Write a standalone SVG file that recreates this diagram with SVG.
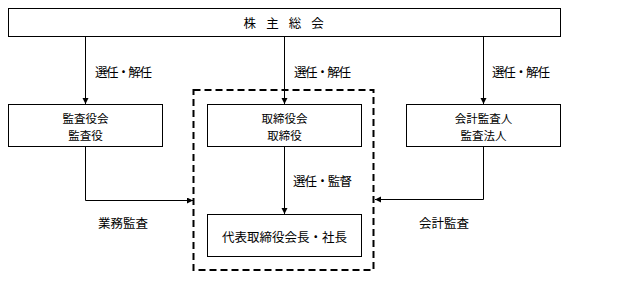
<svg xmlns="http://www.w3.org/2000/svg" width="621" height="285" viewBox="0 0 621 285">
<style>
.box{fill:#fff;stroke:#000;stroke-width:1}
.t{font-family:"Noto Sans CJK JP","Noto Sans CJK SC",sans-serif;font-size:12.5px;fill:#000}
.s{font-size:11.5px}
.c{text-anchor:middle}
.conn{fill:none;stroke:#000;stroke-width:1}
.dash{fill:none;stroke:#000;stroke-width:2;stroke-dasharray:7 4}
</style>
<defs>
<marker id="arr" markerUnits="userSpaceOnUse" markerWidth="7" markerHeight="7" refX="6" refY="3" orient="auto">
<path d="M0,0 L6,3 L0,6 z" fill="#000"/>
</marker>
</defs>
<rect class="dash" x="193.5" y="90" width="180" height="180"/>
<g id="connectors">
<line class="conn" x1="85.5" y1="36.5" x2="85.5" y2="104" marker-end="url(#arr)"/>
<line class="conn" x1="284.5" y1="36.5" x2="284.5" y2="104" marker-end="url(#arr)"/>
<line class="conn" x1="483.5" y1="36.5" x2="483.5" y2="104" marker-end="url(#arr)"/>
<line class="conn" x1="284.5" y1="146.5" x2="284.5" y2="214" marker-end="url(#arr)"/>
<polyline class="conn" points="85.5,146.5 85.5,200.5 193,200.5" marker-end="url(#arr)"/>
<polyline class="conn" points="483.5,146.5 483.5,199.5 375,199.5" marker-end="url(#arr)"/>
<text class="t" x="95" y="76.5" textLength="57" lengthAdjust="spacing">選任・解任</text>
<text class="t" x="294" y="76.5" textLength="57" lengthAdjust="spacing">選任・解任</text>
<text class="t" x="492" y="76.5" textLength="58" lengthAdjust="spacing">選任・解任</text>
<text class="t" x="293" y="185.5" textLength="59" lengthAdjust="spacing">選任・監督</text>
<text class="t" x="98" y="227.5">業務監査</text>
<text class="t" x="419" y="227.5">会計監査</text>
</g>
<g id="shareholders">
<rect class="box" x="8.5" y="8.5" width="552" height="28"/>
<text class="t" x="243.5 256 266.2 278 288.8 300 311.2" y="27.5">株 主 総 会</text>
</g>
<g id="auditors">
<rect class="box" x="8.5" y="104.5" width="154" height="42"/>
<text class="t s c" x="85.5" y="123">監査役会</text>
<text class="t s c" x="85.5" y="140">監査役</text>
</g>
<g id="board">
<rect class="box" x="207.5" y="104.5" width="154" height="42"/>
<text class="t s c" x="284.5" y="123">取締役会</text>
<text class="t s c" x="284.5" y="140">取締役</text>
</g>
<g id="accounting-auditor">
<rect class="box" x="406.5" y="104.5" width="154" height="42"/>
<text class="t s c" x="483.5" y="123">会計監査人</text>
<text class="t s c" x="483.5" y="140">監査法人</text>
</g>
<g id="president">
<rect class="box" x="207.5" y="214.5" width="154" height="42"/>
<text class="t c" x="284.5" y="241.5">代表取締役会長・社長</text>
</g>
</svg>
